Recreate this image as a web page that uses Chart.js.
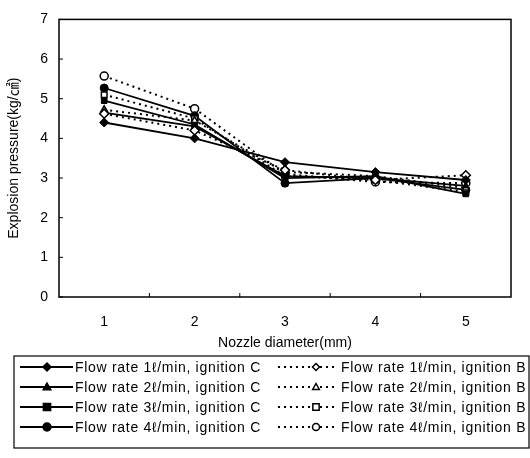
<!DOCTYPE html>
<html><head><meta charset="utf-8">
<script src="https://cdn.jsdelivr.net/npm/chart.js@4.4.0/dist/chart.umd.min.js"></script>
<style>html,body{margin:0;padding:0;background:#fff}#wrap{width:530px;height:458px}</style>
</head><body><div id="wrap"><canvas id="c" width="530" height="458"></canvas></div>
<script>
const categories = ['1','2','3','4','5'];
const yTicks = [0,1,2,3,4,5,6,7];
const flow1C = [4.40, 4.00, 3.40, 3.15, 2.95];
const flow1B = [4.62, 4.20, 3.20, 2.95, 3.07];
const flow2C = [4.65, 4.30, 3.05, 3.00, 2.80];
const flow2B = [4.72, 4.45, 3.15, 3.05, 2.75];
const flow3C = [4.95, 4.35, 3.00, 3.05, 2.60];
const flow3B = [5.10, 4.50, 3.05, 2.95, 2.65];
const flow4C = [5.27, 4.57, 2.87, 3.00, 2.70];
const flow4B = [5.57, 4.75, 3.10, 2.90, 2.87];
const seriesLabels = [
 'Flow rate 1ℓ/min, ignition C','Flow rate 1ℓ/min, ignition B',
 'Flow rate 2ℓ/min, ignition C','Flow rate 2ℓ/min, ignition B',
 'Flow rate 3ℓ/min, ignition C','Flow rate 3ℓ/min, ignition B',
 'Flow rate 4ℓ/min, ignition C','Flow rate 4ℓ/min, ignition B'];
const seriesData = [flow1C, flow1B, flow2C, flow2B, flow3C, flow3B, flow4C, flow4B];
const shapes = ['rectRot','rectRot','triangle','triangle','rect','rect','circle','circle'];

const FONT = "'Liberation Sans', Arial, 'Noto Sans CJK KR', sans-serif";
const datasets = seriesData.map((d,i)=>{
  const dotted = i%2===1;
  return {
    label: seriesLabels[i], data: d,
    borderColor:'#000', borderWidth: dotted?2:1.8,
    borderDash: dotted?[2,4]:[],
    pointStyle: shapes[i],
    pointRadius: shapes[i]==='rect'?4:(shapes[i]==='rectRot'?4.5:4),
    pointBorderColor:'#000', pointBorderWidth: dotted?1.5:1,
    pointBackgroundColor: dotted?'#fff':'#000',
    tension:0, fill:false
  };
});

function marker(ctx, shape, x, y, r, filled){
  ctx.save();
  ctx.setLineDash([]);
  ctx.beginPath();
  if(shape==='circle'){ctx.arc(x,y,r,0,Math.PI*2);}
  else if(shape==='rect'){ctx.rect(x-r*0.9,y-r*0.9,r*1.8,r*1.8);}
  else if(shape==='rectRot'){ctx.moveTo(x,y-r);ctx.lineTo(x+r,y);ctx.lineTo(x,y+r);ctx.lineTo(x-r,y);ctx.closePath();}
  else if(shape==='triangle'){ctx.moveTo(x,y-r);ctx.lineTo(x+r*0.95,y+r*0.7);ctx.lineTo(x-r*0.95,y+r*0.7);ctx.closePath();}
  ctx.fillStyle = filled?'#000':'#fff';
  ctx.fill();
  ctx.lineWidth = 1.5; ctx.strokeStyle='#000'; ctx.stroke();
  ctx.restore();
}

const framePlugin = {
  id:'frame',
  afterDraw(chart){
    const {ctx, chartArea:a, scales} = chart;
    ctx.save();
    ctx.strokeStyle='#000'; ctx.lineWidth=1.5; ctx.setLineDash([]);
    ctx.strokeRect(a.left, a.top, a.right-a.left, a.bottom-a.top);
    ctx.lineWidth=1;
    yTicks.forEach(v=>{const y=scales.y.getPixelForValue(v); ctx.beginPath(); ctx.moveTo(a.left,y); ctx.lineTo(a.left+4,y); ctx.stroke();});
    for(let i=1;i<categories.length;i++){
      const x=(scales.x.getPixelForValue(i-1)+scales.x.getPixelForValue(i))/2;
      ctx.beginPath(); ctx.moveTo(x,a.bottom); ctx.lineTo(x,a.bottom-4); ctx.stroke();
    }
    // legend
    const top=356, bottom=448, left=14, right=529;
    ctx.lineWidth=1.2; ctx.strokeRect(left, top, right-left, bottom-top);
    ctx.font = "14px "+FONT; ctx.fillStyle='#000'; ctx.textBaseline='middle'; ctx.textAlign='left';
    if ('letterSpacing' in ctx) ctx.letterSpacing = '0.7px';
    const rows=[367,387,407,427];
    for(let r=0;r<4;r++){
      const y=rows[r];
      ctx.setLineDash([]); ctx.lineWidth=1.8;
      ctx.beginPath(); ctx.moveTo(20,y); ctx.lineTo(73,y); ctx.stroke();
      marker(ctx, shapes[r*2], 47, y, 4, true);
      ctx.fillText(seriesLabels[r*2], 75, y+1);
      ctx.setLineDash([2,4]); ctx.lineWidth=2;
      ctx.beginPath(); ctx.moveTo(278,y); ctx.lineTo(338,y); ctx.stroke();
      marker(ctx, shapes[r*2+1], 316, y, 3.5, false);
      ctx.setLineDash([]);
      ctx.fillText(seriesLabels[r*2+1], 341, y+1);
    }
    ctx.restore();
  }
};

new Chart(document.getElementById('c'), {
  type:'line',
  data:{labels:categories, datasets},
  plugins:[framePlugin],
  options:{
    responsive:false, animation:false, devicePixelRatio:1,
    layout:{padding:{top:8,right:19,left:0,bottom:103}},
    plugins:{legend:{display:false}, tooltip:{enabled:false}},
    scales:{
      x:{
        offset:true,
        grid:{display:false, drawTicks:false},
        border:{display:false},
        ticks:{color:'#000', font:{family:FONT,size:14}, padding:17},
        title:{display:true, text:'Nozzle diameter(mm)', color:'#000', font:{family:FONT,size:14}, padding:{top:4,bottom:3}},
        afterFit(s){s.height=58;}
      },
      y:{
        min:0, max:7,
        afterBuildTicks(s){s.ticks = yTicks.map(v=>({value:v}));},
        grid:{display:false, drawTicks:false},
        border:{display:false},
        ticks:{color:'#000', font:{family:FONT,size:14}, padding:11},
        title:{display:true, text:'Explosion pressure(kg/㎠)', color:'#000', font:{family:FONT,size:14}, padding:{top:6,bottom:0}},
        afterFit(s){s.width=59;}
      }
    }
  }
});
</script></body></html>
